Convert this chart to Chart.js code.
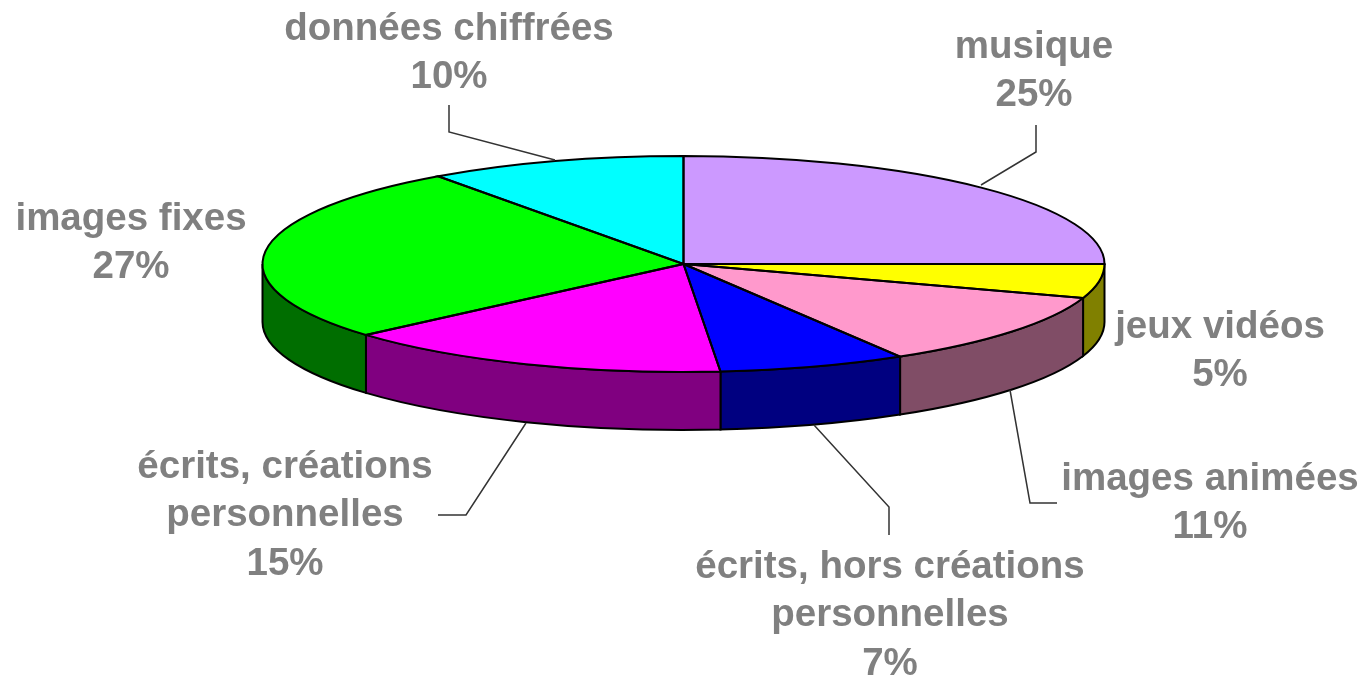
<!DOCTYPE html>
<html lang="fr">
<head>
<meta charset="utf-8">
<title>Camembert</title>
<script src="https://cdn.jsdelivr.net/npm/chart.js@4/dist/chart.umd.min.js"></script>
<style>
  html, body { margin: 0; padding: 0; background: #fff; overflow: hidden; }
  canvas { display: block; }
</style>
</head>
<body>
<canvas id="camembert" width="1366" height="679"></canvas>
<script>
// Données (les étiquettes affichent la valeur arrondie)
const categories = ['musique', 'jeux vidéos', 'images animées', 'écrits, hors créations personnelles',
                    'écrits, créations personnelles', 'images fixes', 'données chiffrées'];
const valeurs = [25, 5.1, 11.3, 7.2, 15, 26.5, 9.9];

const couleurs = ['#CC99FF', '#FFFF00', '#FF99CC', '#0000FF', '#FF00FF', '#00FF00', '#00FFFF'];
const couleursCote = ['#664D80', '#808000', '#804D66', '#000080', '#800080', '#006E00', '#008080'];

// Mise en page des étiquettes : lignes de texte, centre x, y de la première ligne
const etiquettes = [
    { lignes: ['musique'], x: 1034, y: 47 },
    { lignes: ['jeux vidéos'], x: 1220, y: 327 },
    { lignes: ['images animées'], x: 1210, y: 479 },
    { lignes: ['écrits, hors créations', 'personnelles'], x: 890, y: 567 },
    { lignes: ['écrits, créations', 'personnelles'], x: 285, y: 467 },
    { lignes: ['images fixes'], x: 131, y: 219 },
    { lignes: ['données chiffrées'], x: 449, y: 29 }
];
const INTERLIGNE = 48.5;

// Traits de rappel
const rappels = [
    [[1036, 125], [1036, 152], [981, 185]],
    [[1010, 390], [1030, 503], [1057, 503]],
    [[814, 425], [889, 507], [889, 535]],
    [[526, 423], [466, 515], [438, 515]],
    [[449, 105], [449, 132], [555, 160]]
];

const RAYON = 421;
const ECRASEMENT = 108 / 421;
const EPAISSEUR = 58;

const pseudo3D = {
    id: 'pseudo3D',
    beforeDatasetsDraw(chart) {
        const ctx = chart.ctx;
        const arcs = chart.getDatasetMeta(0).data;
        const cx = arcs[0].x, cy = arcs[0].y;
        const ry = RAYON * ECRASEMENT;

        // côté du disque : seulement la moitié avant
        arcs.forEach((arc, i) => {
            const debut = Math.max(arc.startAngle, 0);
            const fin = Math.min(arc.endAngle, Math.PI);
            if (fin <= debut) return;
            ctx.beginPath();
            ctx.ellipse(cx, cy, RAYON, ry, 0, debut, fin);
            ctx.ellipse(cx, cy + EPAISSEUR, RAYON, ry, 0, fin, debut, true);
            ctx.closePath();
            ctx.fillStyle = couleursCote[i];
            ctx.fill();
            ctx.lineWidth = 2;
            ctx.strokeStyle = '#000';
            ctx.stroke();
        });

        ctx.save();
        ctx.translate(cx, cy);
        ctx.scale(1, ECRASEMENT);
        ctx.translate(-cx, -cy);
    },
    afterDatasetsDraw(chart) {
        const ctx = chart.ctx;
        ctx.restore();

        const arcs = chart.getDatasetMeta(0).data;
        const cx = arcs[0].x, cy = arcs[0].y;
        const ry = RAYON * ECRASEMENT;

        // contours des parts
        arcs.forEach(arc => {
            ctx.beginPath();
            ctx.moveTo(cx, cy);
            ctx.ellipse(cx, cy, RAYON, ry, 0, arc.startAngle, arc.endAngle);
            ctx.closePath();
            ctx.lineWidth = 2;
            ctx.strokeStyle = '#000';
            ctx.stroke();
        });

        // traits de rappel
        ctx.lineWidth = 1.5;
        ctx.strokeStyle = '#333';
        rappels.forEach(trait => {
            ctx.beginPath();
            trait.forEach((p, i) => i ? ctx.lineTo(p[0], p[1]) : ctx.moveTo(p[0], p[1]));
            ctx.stroke();
        });

        // étiquettes
        ctx.font = 'bold 38.5px "Liberation Sans", Arial, sans-serif';
        ctx.fillStyle = '#808080';
        ctx.textAlign = 'center';
        ctx.textBaseline = 'middle';
        etiquettes.forEach((e, i) => {
            const lignes = e.lignes.concat(Math.round(valeurs[i]) + '%');
            lignes.forEach((txt, j) => ctx.fillText(txt, e.x, e.y + j * INTERLIGNE));
        });
    }
};

new Chart(document.getElementById('camembert'), {
    type: 'pie',
    data: {
        labels: categories,
        datasets: [{
            data: valeurs,
            backgroundColor: couleurs,
            borderWidth: 0,
            radius: RAYON,
            clip: false
        }]
    },
    options: {
        responsive: false,
        animation: false,
        layout: { padding: { left: 1, bottom: 151 } },
        plugins: { legend: { display: false }, tooltip: { enabled: false } }
    },
    plugins: [pseudo3D]
});
</script>
</body>
</html>
